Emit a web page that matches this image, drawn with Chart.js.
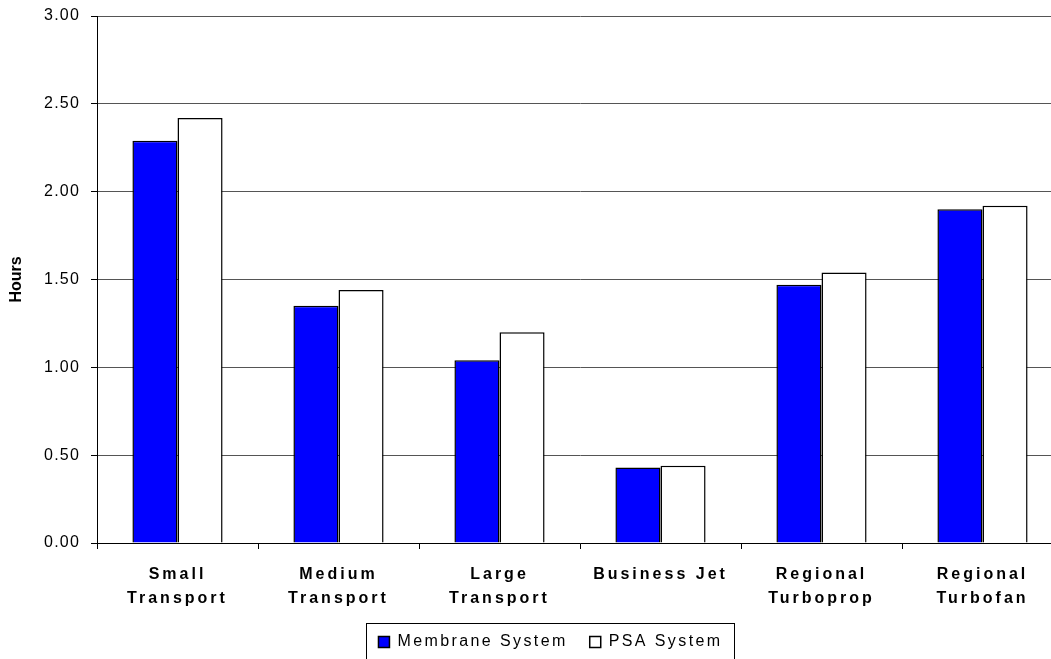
<!DOCTYPE html>
<html lang="en">
<head>
  <meta charset="UTF-8">
  <title>Hours by aircraft class</title>
  <script src="https://cdn.jsdelivr.net/npm/chart.js"></script>
  <style>
    body {
      margin: 0;
      background: #fff;
      overflow: hidden;
    }
    #wrap {
      width: 1051px;
      height: 659px;
      overflow: hidden;
      position: relative;
    }
    canvas {
      position: absolute;
      left: 0;
      top: 0;
    }
  </style>
</head>
<body>
  <div id="wrap">
    <canvas id="hoursChart" width="1100" height="660"></canvas>
  </div>

  <script>
    // categories (multi-line labels as arrays)
    const categories = [
      ['Small', 'Transport'],
      ['Medium', 'Transport'],
      ['Large', 'Transport'],
      'Business Jet',
      ['Regional', 'Turboprop'],
      ['Regional', 'Turbofan']
    ];
    const membraneHours = [2.29, 1.35, 1.04, 0.43, 1.47, 1.90];
    const psaHours = [2.42, 1.44, 1.20, 0.44, 1.54, 1.92];
    const seriesNames = ['Membrane System', 'PSA System'];
    const yTitle = 'Hours';

    const LEGEND_SHIFT = 19;

    // letter spacing + boxed legend
    const spacingPlugin = {
      id: 'spacing',
      beforeUpdate(chart) {
        chart.ctx.letterSpacing = '2.4px';
      },
      beforeDraw(chart) {
        chart.ctx.letterSpacing = '2.4px';
        const x = chart.scales.x;
        const y = chart.scales.y;
        const lg = chart.legend;
        if (!x._patched) {
          const orig = x.drawLabels.bind(x);
          x.drawLabels = function (area) {
            const c = chart.ctx;
            c.save();
            c.letterSpacing = '3px';
            orig(area);
            c.restore();
          };
          x._patched = true;
        }
        if (!y._patched) {
          const origL = y.drawLabels.bind(y);
          y.drawLabels = function (area) {
            const c = chart.ctx;
            c.save();
            c.letterSpacing = '1.2px';
            origL(area);
            c.restore();
          };
          const origT = y.drawTitle.bind(y);
          y.drawTitle = function (area) {
            const c = chart.ctx;
            c.save();
            c.letterSpacing = '0px';
            origT(area);
            c.restore();
          };
          y._patched = true;
        }
        if (lg && !lg._patched) {
          const origD = lg.draw.bind(lg);
          lg.draw = function (area) {
            const c = chart.ctx;
            c.save();
            c.translate(LEGEND_SHIFT, 0);
            origD(area);
            c.restore();
          };
          lg._patched = true;
        }
      },
      afterDraw(chart) {
        const boxes = chart.legend && chart.legend.legendHitBoxes;
        if (!boxes || !boxes.length) return;
        const first = boxes[0];
        const last = boxes[boxes.length - 1];
        const cy = first.top + first.height / 2;
        const left = first.left - 12 + LEGEND_SHIFT;
        const right = last.left + last.width + 12 + LEGEND_SHIFT;
        const c = chart.ctx;
        c.save();
        c.strokeStyle = '#000';
        c.lineWidth = 1;
        c.strokeRect(Math.round(left) + 0.5, Math.round(cy - 19) + 0.5, Math.round(right - left), 38);
        c.restore();
      }
    };

    const ctx = document.getElementById('hoursChart').getContext('2d');

    new Chart(ctx, {
      type: 'bar',
      data: {
        labels: categories,
        datasets: [{
          label: seriesNames[0],
          data: membraneHours,
          backgroundColor: '#0000ff',
          borderColor: '#000',
          borderWidth: 1.5,
          categoryPercentage: 0.56,
          barPercentage: 1.0
        }, {
          label: seriesNames[1],
          data: psaHours,
          backgroundColor: '#fff',
          borderColor: '#000',
          borderWidth: 1.5,
          categoryPercentage: 0.56,
          barPercentage: 1.0
        }]
      },
      options: {
        responsive: false,
        animation: false,
        devicePixelRatio: 1,
        layout: {
          padding: { left: 0, right: 37, top: 16, bottom: 0 }
        },
        scales: {
          x: {
            afterFit: (s) => { s.height = 69; },
            grid: {
              display: true,
              drawOnChartArea: false,
              offset: true,
              tickLength: 6,
              color: '#000'
            },
            border: { color: '#000', width: 1 },
            ticks: {
              color: '#000',
              padding: 14,
              maxRotation: 0,
              autoSkip: false,
              font: { family: 'Arial', size: 16, weight: 'bold', lineHeight: 1.5 }
            }
          },
          y: {
            min: 0,
            max: 3,
            afterFit: (s) => {
              s.width = 97;
              s.paddingTop = 0;
              s.paddingBottom = 0;
            },
            grid: {
              color: '#555',
              tickLength: 6,
              tickColor: '#000'
            },
            border: { color: '#000', width: 1 },
            ticks: {
              stepSize: 0.5,
              color: '#000',
              padding: 11,
              font: { family: 'Arial', size: 16 },
              callback: (v) => Number(v).toFixed(2)
            },
            title: {
              display: true,
              text: yTitle,
              color: '#000',
              padding: { top: 7, bottom: 0 },
              font: { family: 'Arial', size: 16, weight: 'bold' }
            }
          }
        },
        plugins: {
          legend: {
            position: 'bottom',
            labels: {
              color: '#000',
              boxWidth: 11,
              boxHeight: 11,
              padding: 22,
              font: { family: 'Arial', size: 16 }
            }
          },
          tooltip: { enabled: false }
        }
      },
      plugins: [spacingPlugin]
    });
  </script>
</body>
</html>
